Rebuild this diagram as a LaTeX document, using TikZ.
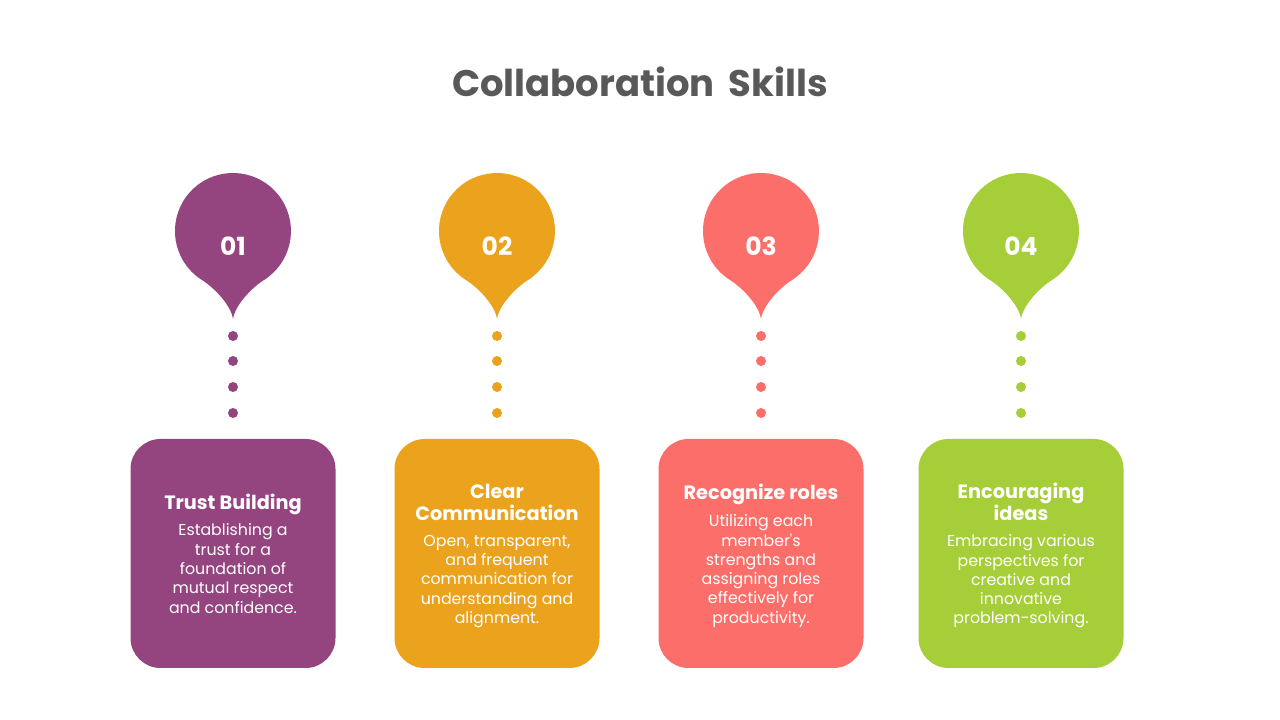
\documentclass[tikz,border=0pt]{standalone}
\usepackage{fontspec}
\setmainfont{Poppins}
\definecolor{cpurple}{HTML}{944580}
\definecolor{corange}{HTML}{EBA31E}
\definecolor{csalmon}{HTML}{FC6E69}
\definecolor{cgreen}{HTML}{A5CE39}
\definecolor{titlegray}{HTML}{595959}
\tikzset{
  num/.style={text=white, font=\bfseries\fontsize{25}{30}\selectfont, inner sep=0pt},
  card/.style={minimum width=205pt, minimum height=229pt, rounded corners=30pt, inner sep=0pt},
  ttl/.style={text=white, font=\bfseries\fontsize{19.3}{22}\selectfont, align=center, inner sep=0pt},
  bodytxt/.style={text=white, font=\fontsize{15.8}{19.3}\selectfont, align=center, inner sep=0pt},
  dotmark/.style={fill=#1}
}
\newcommand\skillitem[8]{%
  \begin{scope}[shift={(#2,0)}]
    \fill[#3] (0,401) .. controls (2,415) and (18.9,432.3) .. (30.7,439.8)
      arc[start angle=-58, end angle=238, radius=58]
      .. controls (-18.9,432.3) and (-2,415) .. (0,401) -- cycle;
    \node[num] (n#1) at (0,474) {#4};
    \foreach \yy in {384,359,333,307} \fill[dotmark=#3] (0,\yy) circle[radius=5];
    \node[card, fill=#3] (c#1) at (0,166.5) {};
    \node[ttl] (t#1) at (0,#6) {#5};
    \node[bodytxt] (b#1) at (0,#8) {#7};
  \end{scope}}
\begin{document}
\begin{tikzpicture}[x=1pt, y=1pt]
\useasboundingbox (0,0) rectangle (1280,720);
\fill[white] (0,0) rectangle (1280,720);
\node[text=titlegray, font=\bfseries\fontsize{37}{44}\selectfont] (title) at (640,638) {Collaboration\, Skills};
\skillitem{1}{233}{cpurple}{01}{Trust Building}{216}{Establishing a\\trust for a\\foundation of\\mutual respect\\and confidence.}{151.5}
\skillitem{2}{497}{corange}{02}{Clear\\Communication}{218}{Open, transparent,\\and frequent\\communication for\\understanding and\\alignment.}{138.5}
\skillitem{3}{761}{csalmon}{03}{Recognize roles}{226}{Utilizing each\\member\textquotesingle s\\strengths and\\assigning roles\\effectively for\\productivity.}{149}
\skillitem{4}{1021}{cgreen}{04}{Encouraging\\ideas}{218}{Embracing various\\perspectives for\\creative and\\innovative\\problem-solving.}{138.5}
\end{tikzpicture}
\end{document}
